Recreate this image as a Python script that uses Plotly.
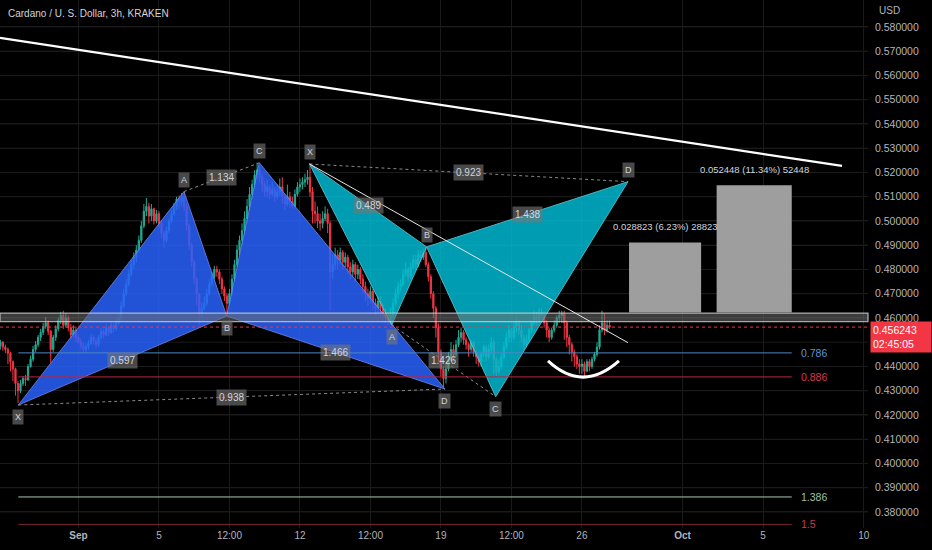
import plotly.graph_objects as go

TITLE = "Cardano / U. S. Dollar, 3h, KRAKEN"

# ---------------- candle data: 3h candles, prices in 1e-4 USD ----------------
# x = day offset from 2022-09-01 00:00 ; first candle Aug 28 03:00
candle_start = -3.875
candle_step = 0.125
first_open = 4485

closes = [
    4500, 4480, 4470, 4455, 4420, 4390, 4330,            # Aug 28
    4300, 4330, 4350, 4345, 4400, 4430, 4470, 4490,      # Aug 29
    4520, 4540, 4565, 4580, 4545, 4470, 4520, 4555,      # Aug 30
    4590, 4610, 4570, 4600, 4560, 4530, 4550, 4520,      # Aug 31
    4500, 4485, 4470, 4480, 4495, 4520, 4505, 4490,      # Sep 1
    4520, 4545, 4530, 4560, 4540, 4570, 4555, 4580,      # Sep 2
    4600, 4650, 4700, 4740, 4780, 4820, 4850, 4880,      # Sep 3
    4920, 4980, 5040, 5060, 5020, 5050, 5000, 5030,      # Sep 4
    4990, 4950, 4920, 4960, 5000, 5030, 5060, 5090,      # Sep 5
    5080, 5100, 5060, 4980, 4900, 4830, 4760, 4700,      # Sep 6
    4620, 4640, 4660, 4700, 4740, 4770, 4800, 4790,      # Sep 7
    4760, 4720, 4690, 4660, 4700, 4760, 4820, 4880,      # Sep 8
    4920, 4960, 5010, 5060, 5110, 5150, 5190, 5210,      # Sep 9
    5180, 5150, 5120, 5140, 5110, 5130, 5100, 5120,      # Sep 10
    5140, 5100, 5070, 5100, 5080, 5060, 5110, 5140,      # Sep 11
    5150, 5160, 5170, 5180, 5120, 5040, 5030, 5000,      # Sep 12
    4990, 5010, 5030, 4990, 4790, 4820, 4860, 4840,      # Sep 13
    4870, 4830, 4850, 4810, 4790, 4820, 4780, 4800,      # Sep 14
    4760, 4730, 4700, 4680, 4710, 4660, 4640, 4670,      # Sep 15
    4640, 4620, 4600, 4590, 4610, 4660, 4700, 4730,      # Sep 16
    4740, 4780, 4800, 4770, 4810, 4840, 4820, 4860,      # Sep 17
    4850, 4870, 4820, 4770, 4700, 4640, 4560, 4460,      # Sep 18
    4390, 4350, 4390, 4430, 4470, 4450, 4490, 4520,      # Sep 19
    4540, 4510, 4490, 4470, 4500, 4460, 4440, 4420,      # Sep 20
    4450, 4480, 4440, 4470, 4500, 4430, 4380, 4400,      # Sep 21
    4440, 4480, 4520, 4550, 4520, 4560, 4580, 4550,      # Sep 22
    4520, 4490, 4510, 4550, 4580, 4610, 4590, 4620,      # Sep 23
    4610, 4580, 4550, 4520, 4550, 4570, 4600, 4610,      # Sep 24
    4620, 4580, 4520, 4490, 4460, 4440, 4410, 4400,      # Sep 25
    4410, 4380, 4420, 4400, 4430, 4450, 4480, 4550,      # Sep 26
    4580, 4550, 4570, 4562.43,                           # Sep 27
]
highs = [
    4510, 4505, 4490, 4478, 4460, 4425, 4395,
    4340, 4345, 4360, 4365, 4410, 4445, 4485, 4505,
    4530, 4555, 4580, 4604, 4590, 4550, 4530, 4570,
    4600, 4625, 4630, 4620, 4610, 4575, 4570, 4565,
    4530, 4515, 4500, 4495, 4510, 4535, 4530, 4515,
    4530, 4560, 4555, 4575, 4565, 4585, 4580, 4595,
    4620, 4670, 4720, 4760, 4800, 4840, 4870, 4900,
    4940, 5000, 5070, 5095, 5075, 5070, 5055, 5045,
    5040, 5000, 4960, 4975, 5010, 5045, 5075, 5100,
    5105, 5115, 5120, 5070, 4990, 4910, 4840, 4770,
    4700, 4665, 4690, 4720, 4760, 4790, 4815, 4815,
    4800, 4770, 4730, 4700, 4720, 4780, 4840, 4900,
    4940, 4990, 5040, 5090, 5140, 5170, 5210, 5240,
    5225, 5195, 5165, 5170, 5150, 5160, 5140, 5150,
    5175, 5180, 5110, 5150, 5120, 5100, 5130, 5160,
    5175, 5180, 5195, 5210, 5235, 5140, 5080, 5060,
    5030, 5040, 5060, 5050, 5000, 4860, 4890, 4880,
    4890, 4880, 4870, 4860, 4830, 4840, 4830, 4820,
    4810, 4780, 4750, 4720, 4730, 4720, 4680, 4690,
    4690, 4660, 4640, 4620, 4640, 4680, 4720, 4750,
    4760, 4800, 4830, 4810, 4830, 4860, 4860, 4880,
    4880, 4885, 4893, 4830, 4780, 4710, 4650, 4580,
    4470, 4400, 4410, 4460, 4500, 4490, 4510, 4550,
    4560, 4550, 4520, 4500, 4510, 4505, 4470, 4450,
    4460, 4490, 4490, 4490, 4520, 4510, 4440, 4430,
    4460, 4500, 4540, 4570, 4560, 4580, 4610, 4590,
    4570, 4530, 4530, 4560, 4590, 4630, 4625, 4640,
    4640, 4620, 4590, 4560, 4560, 4590, 4610, 4630,
    4630, 4630, 4590, 4530, 4500, 4470, 4450, 4430,
    4430, 4420, 4430, 4430, 4440, 4460, 4500, 4570,
    4630, 4620, 4590, 4590,
]
lows = [
    4470, 4465, 4455, 4410, 4380, 4340, 4280,
    4249, 4290, 4320, 4320, 4340, 4395, 4420, 4460,
    4480, 4505, 4530, 4555, 4530, 4415, 4460, 4505,
    4545, 4575, 4555, 4560, 4545, 4510, 4520, 4500,
    4495, 4470, 4455, 4460, 4470, 4490, 4490, 4475,
    4480, 4510, 4515, 4525, 4525, 4535, 4540, 4545,
    4570, 4590, 4640, 4690, 4730, 4770, 4800, 4830,
    4870, 4910, 4970, 5020, 4990, 5000, 4985, 4990,
    4970, 4930, 4890, 4910, 4950, 4990, 5020, 5045,
    5050, 5060, 5040, 4960, 4880, 4810, 4740, 4650,
    4570, 4600, 4630, 4650, 4690, 4730, 4760, 4770,
    4740, 4700, 4670, 4620, 4650, 4690, 4750, 4810,
    4860, 4900, 4940, 4990, 5040, 5090, 5130, 5170,
    5160, 5120, 5100, 5100, 5090, 5100, 5080, 5090,
    5100, 5070, 5045, 5060, 5055, 5050, 5050, 5100,
    5120, 5130, 5140, 5150, 5100, 4990, 4990, 4970,
    4960, 4970, 5000, 4950, 4630, 4760, 4800, 4800,
    4820, 4800, 4810, 4780, 4760, 4770, 4750, 4760,
    4740, 4700, 4670, 4650, 4660, 4630, 4610, 4620,
    4600, 4590, 4580, 4571, 4580, 4600, 4650, 4680,
    4710, 4730, 4770, 4750, 4760, 4800, 4800, 4810,
    4830, 4840, 4810, 4750, 4680, 4600, 4520, 4420,
    4360, 4310, 4330, 4380, 4420, 4420, 4440, 4480,
    4500, 4490, 4470, 4440, 4460, 4440, 4410, 4400,
    4400, 4440, 4420, 4430, 4450, 4370, 4360, 4370,
    4390, 4430, 4470, 4500, 4500, 4510, 4540, 4530,
    4500, 4470, 4480, 4500, 4540, 4570, 4570, 4580,
    4590, 4560, 4520, 4500, 4510, 4540, 4560, 4580,
    4580, 4510, 4480, 4450, 4420, 4400, 4390, 4370,
    4370, 4360, 4380, 4380, 4390, 4420, 4440, 4470,
    4540, 4530, 4540, 4555,
]
UNIT = 10000.0

# ---------------- axes ----------------
x_tickvals = [0, 4, 7.5, 11, 14.5, 18, 21.5, 25, 30, 34, 39]
x_ticktext = ["<b>Sep</b>", "5", "12:00", "12", "12:00", "19", "12:00", "26", "<b>Oct</b>", "5", "10"]
x_range = [-3.893, 39.206]
y_range = [0.3734, 0.5911]
# price labels shown on the right scale (0.45 is hidden behind the price tag)
y_tickvals = [0.38, 0.39, 0.40, 0.41, 0.42, 0.43, 0.44, 0.46, 0.47, 0.48, 0.49,
              0.50, 0.51, 0.52, 0.53, 0.54, 0.55, 0.56, 0.57, 0.58]
y_gridvals = [0.38, 0.39, 0.40, 0.41, 0.42, 0.43, 0.44, 0.45, 0.46, 0.47, 0.48, 0.49,
              0.50, 0.51, 0.52, 0.53, 0.54, 0.55, 0.56, 0.57, 0.58]

# ---------------- drawings ----------------
# harmonic patterns: X, A, B, C, D  (day, price)
blue_x = [-2.984, 5.243, 7.363, 8.98, 18.20]
blue_y = [0.4241, 0.5121, 0.4608, 0.5240, 0.4307]
blue_ratios = ["0.597", "1.134", "1.466", "0.938"]      # XB, AC, BD, XD
teal_x = [11.475, 15.556, 17.29, 20.72, 27.29]
teal_y = [0.5235, 0.4571, 0.4893, 0.42755, 0.5162]
teal_ratios = ["0.489", "1.426", "1.438", "0.923"]
point_names = ["X", "A", "B", "C", "D"]

fib_names = ["0.786", "0.886", "1.386", "1.5"]
fib_prices = [0.4456, 0.4357, 0.3862, 0.3749]
fib_line_colors = ["#4f86c6", "#b8283e", "#a9c8b4", "#7d2630"]
fib_text_colors = ["#5d95d6", "#d9384f", "#9cc3a3", "#c93a4a"]
fib_x_end = 35.42

trend_x = [-3.893, 37.915]
trend_y = [0.57546, 0.52268]
thin_x = [11.475, 27.29]
thin_y = [0.5235, 0.44981]

band_lo, band_hi = 0.4585, 0.4620

measure_base = 0.46225
measure_moves = [0.028823, 0.052448]
measure_x0 = [27.34, 31.69]
measure_x1 = [30.92, 35.42]
measure_texts = ["0.028823 (6.23%) 28823", "0.052448 (11.34%) 52448"]

arc_x = [23.318, 25.06, 26.84]
arc_y = [0.44227, 0.43561, 0.44227]

last_price = 0.456243
countdown = "02:45:05"

# ---------------- build ----------------
n = len(closes)
xs = [candle_start + i * candle_step for i in range(n)]
opens = [first_open] + closes[:-1]
o = [v / UNIT for v in opens]
c = [v / UNIT for v in closes]
h = [max(a, b, d / UNIT) for a, b, d in zip(o, c, highs)]
l = [min(a, b, d / UNIT) for a, b, d in zip(o, c, lows)]

GREEN = "#22ab94"
RED = "#f23645"
FONT = "Liberation Sans, Arial, sans-serif"
TXT = "#d1d4dc"
GRID = "#1a1a1a"

fig = go.Figure()
fig.add_trace(go.Candlestick(
    x=xs, open=o, high=h, low=l, close=c,
    increasing=dict(line=dict(color=GREEN, width=1), fillcolor=GREEN),
    decreasing=dict(line=dict(color=RED, width=1), fillcolor=RED),
    whiskerwidth=0, showlegend=False, hoverinfo="skip",
))

shapes = []
ann = []

# horizontal grid (including the hidden 0.45 level)
for g in y_gridvals:
    shapes.append(dict(type="line", xref="paper", yref="y", x0=0, x1=1, y0=g, y1=g,
                       layer="below", line=dict(color=GRID, width=1)))


def add_line(x0, y0, x1, y1, color, width=1, dash="solid", opacity=1):
    shapes.append(dict(type="line", xref="x", yref="y", x0=x0, y0=y0, x1=x1, y1=y1,
                       layer="above", opacity=opacity,
                       line=dict(color=color, width=width, dash=dash)))


def add_tri(px, py, fill, edge, opacity):
    path = "M {},{} L {},{} L {},{} Z".format(px[0], py[0], px[1], py[1], px[2], py[2])
    shapes.append(dict(type="path", xref="x", yref="y", path=path, layer="above",
                       fillcolor=fill, opacity=opacity,
                       line=dict(color=edge, width=1)))


def label(x, y, text, yshift=0, size=10, bg="rgba(118,118,118,0.62)"):
    ann.append(dict(x=x, y=y, xref="x", yref="y", text=text, showarrow=False,
                    yshift=yshift, font=dict(family=FONT, size=size, color=TXT),
                    bgcolor=bg, borderpad=2))


def pattern(px, py, fill, edge, ratios, above_flags):
    add_tri(px[0:3], py[0:3], fill, edge, 0.84)
    add_tri(px[2:5], py[2:5], fill, edge, 0.84)
    add_line(px[0], py[0], px[4], py[4], "#8a8a8a", 1, "dot")
    add_line(px[1], py[1], px[3], py[3], "#8a8a8a", 1, "dot")
    pairs = [(0, 2), (1, 3), (2, 4), (0, 4)]
    for (i, j), r in zip(pairs, ratios):
        label((px[i] + px[j]) / 2, (py[i] + py[j]) / 2, r)
    for k in range(5):
        label(px[k], py[k], point_names[k], yshift=12 if above_flags[k] else -12, size=9)


pattern(blue_x, blue_y, "#2962ff", "#6d8cff", blue_ratios, [False, True, False, True, False])
pattern(teal_x, teal_y, "#00bcd4", "#5fd6e6", teal_ratios, [True, False, True, False, True])

# fib levels
for name, p, lc, tc in zip(fib_names, fib_prices, fib_line_colors, fib_text_colors):
    add_line(blue_x[0], p, fib_x_end, p, lc, 1)
    ann.append(dict(x=fib_x_end, y=p, xref="x", yref="y", text=name, showarrow=False,
                    xanchor="left", xshift=7, font=dict(family=FONT, size=10.5, color=tc)))

# support band
shapes.append(dict(type="rect", xref="paper", yref="y", x0=0, x1=1.0, y0=band_lo, y1=band_hi,
                   layer="above", fillcolor="rgba(110,110,110,0.55)",
                   line=dict(color="rgba(215,215,215,0.75)", width=1.3)))

# trend lines
add_line(trend_x[0], trend_y[0], trend_x[1], trend_y[1], "#ffffff", 2.2)
add_line(thin_x[0], thin_y[0], thin_x[1], thin_y[1], "#e6e6e6", 1)

# measure boxes
for x0, x1, mv, t in zip(measure_x0, measure_x1, measure_moves, measure_texts):
    top = measure_base + mv
    shapes.append(dict(type="rect", xref="x", yref="y", x0=x0, x1=x1, y0=measure_base, y1=top,
                       layer="above", fillcolor="#9e9e9e", line=dict(width=0)))
    ann.append(dict(x=(x0 + x1) / 2, y=top, xref="x", yref="y", text=t, showarrow=False,
                    yshift=16, font=dict(family=FONT, size=9.5, color=TXT)))

# smile arc (quadratic bezier through the bottom point)
ctrl_y = 2 * arc_y[1] - 0.5 * (arc_y[0] + arc_y[2])
ctrl_x = 2 * arc_x[1] - 0.5 * (arc_x[0] + arc_x[2])
shapes.append(dict(type="path", xref="x", yref="y", layer="above",
                   path="M {},{} Q {},{} {},{}".format(arc_x[0], arc_y[0], ctrl_x, ctrl_y, arc_x[2], arc_y[2]),
                   line=dict(color="#ffffff", width=3)))

# last price line
shapes.append(dict(type="line", xref="paper", yref="y", x0=0, x1=1, y0=last_price, y1=last_price,
                   layer="above", line=dict(color=RED, width=1, dash="dot")))

# price tag on the axis
ann.append(dict(x=1, y=last_price, xref="paper", yref="y", xanchor="left", yanchor="middle",
                xshift=2, yshift=-10, showarrow=False, align="left", width=56,
                text="{:.6f}<br>{}".format(last_price, countdown),
                font=dict(family=FONT, size=10.5, color="#ffffff"),
                bgcolor=RED, borderpad=2))
# title and currency
ann.append(dict(x=0, y=1, xref="paper", yref="paper", xanchor="left", yanchor="middle",
                xshift=6, yshift=-13, showarrow=False, text=TITLE,
                font=dict(family=FONT, size=10, color=TXT)))
ann.append(dict(x=1, y=1, xref="paper", yref="paper", xanchor="left", yanchor="middle",
                xshift=9, yshift=-10, showarrow=False, text="USD",
                font=dict(family=FONT, size=10, color="#b2b5be")))

fig.update_layout(
    width=932, height=550,
    margin=dict(l=0, r=64, t=0, b=22),
    paper_bgcolor="#000000", plot_bgcolor="#000000",
    shapes=shapes, annotations=ann, showlegend=False,
    xaxis=dict(range=x_range, tickvals=x_tickvals, ticktext=x_ticktext,
               showgrid=True, gridcolor=GRID, zeroline=False, showline=False,
               rangeslider=dict(visible=False),
               tickfont=dict(family=FONT, size=10, color="#b2b5be"), ticks=""),
    yaxis=dict(range=y_range, side="right", tickvals=y_tickvals, tickformat=".6f",
               showgrid=True, gridcolor=GRID, zeroline=False, showline=False,
               tickfont=dict(family=FONT, size=10.5, color="#b2b5be"), ticks="",
               ticklabelstandoff=6),
)

fig.write_html("out.html", config={"displayModeBar": False},
               post_script="document.body.style.margin='0';document.body.style.overflow='hidden';")
